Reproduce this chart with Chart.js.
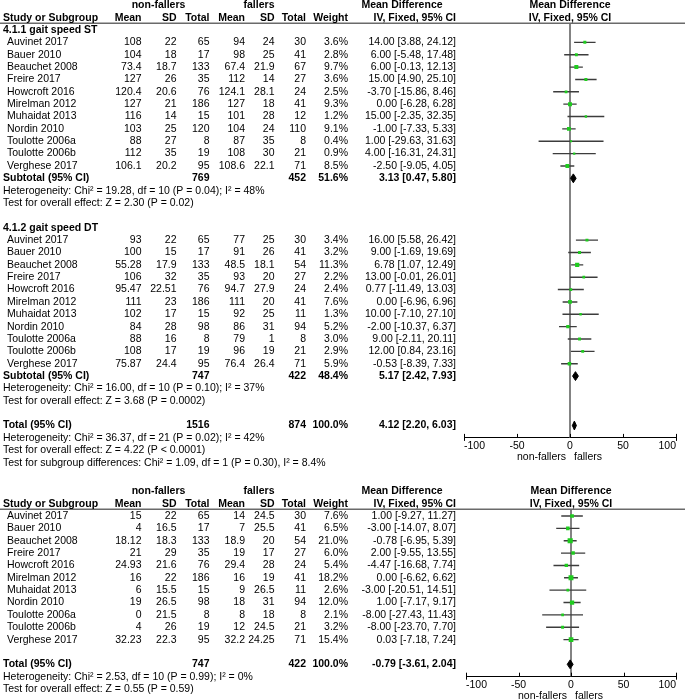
<!DOCTYPE html>
<html>
<head>
<meta charset="utf-8">
<title>Forest plot</title>
<script src="https://cdn.jsdelivr.net/npm/chart.js@4.4.1/dist/chart.umd.min.js"></script>
<style>
  html, body { margin:0; padding:0; background:#ffffff; }
  #page { position:relative; width:685px; height:699px; overflow:hidden; background:#fff; }
  canvas { position:absolute; left:0; display:block; }
</style>
</head>
<body>
<div id="page">
  <canvas id="topChart" width="685" height="470" style="top:0"></canvas>
  <canvas id="bottomChart" width="685" height="229" style="top:470px"></canvas>
</div>
<script>
// ---------------- DATA ----------------
const studies = ["Auvinet 2017","Bauer 2010","Beauchet 2008","Freire 2017","Howcroft 2016","Mirelman 2012","Muhaidat 2013","Nordin 2010","Toulotte 2006a","Toulotte 2006b","Verghese 2017"];
const axisTicks = [-100, -50, 0, 50, 100];

// 4.1.1 gait speed ST
const stNfMean = [108, 104, 73.4, 127, 120.4, 127, 116, 103, 88, 112, 106.1];
const stNfSD   = [22, 18, 18.7, 26, 20.6, 21, 14, 25, 27, 35, 20.2];
const stNfN    = [65, 17, 133, 35, 76, 186, 15, 120, 8, 19, 95];
const stFMean  = [94, 98, 67.4, 112, 124.1, 127, 101, 104, 87, 108, 108.6];
const stFSD    = [24, 25, 21.9, 14, 28.1, 18, 28, 24, 35, 30, 22.1];
const stFN     = [30, 41, 67, 27, 24, 41, 12, 110, 8, 21, 71];
const stWeight = [3.6, 2.8, 9.7, 3.6, 2.5, 9.3, 1.2, 9.1, 0.4, 0.9, 8.5];
const stMD     = [14.00, 6.00, 6.00, 15.00, -3.70, 0.00, 15.00, -1.00, 1.00, 4.00, -2.50];
const stLo     = [3.88, -5.48, -0.13, 4.90, -15.86, -6.28, -2.35, -7.33, -29.63, -16.31, -9.05];
const stHi     = [24.12, 17.48, 12.13, 25.10, 8.46, 6.28, 32.35, 5.33, 31.63, 24.31, 4.05];
const stTotals  = [769, 452, 51.6];
const stSummary = [3.13, 0.47, 5.80];
const stHet  = "Heterogeneity: Chi² = 19.28, df = 10 (P = 0.04); I² = 48%";
const stTest = "Test for overall effect: Z = 2.30 (P = 0.02)";

// 4.1.2 gait speed DT
const dtNfMean = [93, 100, 55.28, 106, 95.47, 111, 102, 84, 88, 108, 75.87];
const dtNfSD   = [22, 15, 17.9, 32, 22.51, 23, 17, 28, 16, 17, 24.4];
const dtNfN    = [65, 17, 133, 35, 76, 186, 15, 98, 8, 19, 95];
const dtFMean  = [77, 91, 48.5, 93, 94.7, 111, 92, 86, 79, 96, 76.4];
const dtFSD    = [25, 26, 18.1, 20, 27.9, 20, 25, 31, 1, 19, 26.4];
const dtFN     = [30, 41, 54, 27, 24, 41, 11, 94, 8, 21, 71];
const dtWeight = [3.4, 3.2, 11.3, 2.2, 2.4, 7.6, 1.3, 5.2, 3.0, 2.9, 5.9];
const dtMD     = [16.00, 9.00, 6.78, 13.00, 0.77, 0.00, 10.00, -2.00, 9.00, 12.00, -0.53];
const dtLo     = [5.58, -1.69, 1.07, -0.01, -11.49, -6.96, -7.10, -10.37, -2.11, 0.84, -8.39];
const dtHi     = [26.42, 19.69, 12.49, 26.01, 13.03, 6.96, 27.10, 6.37, 20.11, 23.16, 7.33];
const dtTotals  = [747, 422, 48.4];
const dtSummary = [5.17, 2.42, 7.93];
const dtHet  = "Heterogeneity: Chi² = 16.00, df = 10 (P = 0.10); I² = 37%";
const dtTest = "Test for overall effect: Z = 3.68 (P = 0.0002)";

// Overall (top analysis)
const allTotals  = [1516, 874, 100.0];
const allSummary = [4.12, 2.20, 6.03];
const allHet  = "Heterogeneity: Chi² = 36.37, df = 21 (P = 0.02); I² = 42%";
const allTest = "Test for overall effect: Z = 4.22 (P < 0.0001)";
const allSubgroup = "Test for subgroup differences: Chi² = 1.09, df = 1 (P = 0.30), I² = 8.4%";

// Second analysis (bottom)
const bNfMean = [15, 4, 18.12, 21, 24.93, 16, 6, 19, 0, 4, 32.23];
const bNfSD   = [22, 16.5, 18.3, 29, 21.6, 22, 15.5, 26.5, 21.5, 26, 22.3];
const bNfN    = [65, 17, 133, 35, 76, 186, 15, 98, 8, 19, 95];
const bFMean  = [14, 7, 18.9, 19, 29.4, 16, 9, 18, 8, 12, 32.2];
const bFSD    = [24.5, 25.5, 20, 17, 28, 19, 26.5, 31, 18, 24.5, 24.25];
const bFN     = [30, 41, 54, 27, 24, 41, 11, 94, 8, 21, 71];
const bWeight = [7.6, 6.5, 21.0, 6.0, 5.4, 18.2, 2.6, 12.0, 2.1, 3.2, 15.4];
const bMD     = [1.00, -3.00, -0.78, 2.00, -4.47, 0.00, -3.00, 1.00, -8.00, -8.00, 0.03];
const bLo     = [-9.27, -14.07, -6.95, -9.55, -16.68, -6.62, -20.51, -7.17, -27.43, -23.70, -7.18];
const bHi     = [11.27, 8.07, 5.39, 13.55, 7.74, 6.62, 14.51, 9.17, 11.43, 7.70, 7.24];
const bTotals  = [747, 422, 100.0];
const bSummary = [-0.79, -3.61, 2.04];
const bHet  = "Heterogeneity: Chi² = 2.53, df = 10 (P = 0.99); I² = 0%";
const bTest = "Test for overall effect: Z = 0.55 (P = 0.59)";

// ---------------- STYLE / LAYOUT ----------------
const FF = '"Liberation Sans", Arial, sans-serif';
const FS = 10.5;
const GREEN = '#1fcc1f';
const CI_COLOR = '#3c3c3c';
const ZERO_COLOR = '#5a5a5a';
const RULE_COLOR = '#6a6a6a';
const DIAMOND_H = 0.36;
const RULE_ROW = -0.55;
const X = { head:3, name:7, nfMean:141.5, nfSD:176.5, nfN:209.5, fMean:245, fSD:274.5, fN:306,
            w:348, ci:456, grpNf:158.5, grpF:259, mdHead:402 };

function T(r, x, text, align, bold) { return { r, x, text, align: align || 'left', bold: !!bold }; }
function fmtCI(m, l, h) { return m.toFixed(2) + ' [' + l.toFixed(2) + ', ' + h.toFixed(2) + ']'; }

function headerItems(items) {
  items.push(T(-2, X.grpNf, 'non-fallers', 'center', true));
  items.push(T(-2, X.grpF, 'fallers', 'center', true));
  items.push(T(-2, X.mdHead, 'Mean Difference', 'center', true));
  items.push(T(-2, 'zero', 'Mean Difference', 'center', true));
  items.push(T(-1, X.head, 'Study or Subgroup', 'left', true));
  items.push(T(-1, X.nfMean, 'Mean', 'right', true));
  items.push(T(-1, X.nfSD, 'SD', 'right', true));
  items.push(T(-1, X.nfN, 'Total', 'right', true));
  items.push(T(-1, X.fMean, 'Mean', 'right', true));
  items.push(T(-1, X.fSD, 'SD', 'right', true));
  items.push(T(-1, X.fN, 'Total', 'right', true));
  items.push(T(-1, X.w, 'Weight', 'right', true));
  items.push(T(-1, X.ci, 'IV, Fixed, 95% CI', 'right', true));
  items.push(T(-1, 'zero', 'IV, Fixed, 95% CI', 'center', true));
}
function studyItems(items, r0, nfM, nfS, nfN, fM, fS, fN, w, md, lo, hi) {
  studies.forEach((s, i) => {
    const r = r0 + i;
    items.push(T(r, X.name, s));
    items.push(T(r, X.nfMean, String(nfM[i]), 'right'));
    items.push(T(r, X.nfSD, String(nfS[i]), 'right'));
    items.push(T(r, X.nfN, String(nfN[i]), 'right'));
    items.push(T(r, X.fMean, String(fM[i]), 'right'));
    items.push(T(r, X.fSD, String(fS[i]), 'right'));
    items.push(T(r, X.fN, String(fN[i]), 'right'));
    items.push(T(r, X.w, w[i].toFixed(1) + '%', 'right'));
    items.push(T(r, X.ci, fmtCI(md[i], lo[i], hi[i]), 'right'));
  });
}
function summaryItems(items, r, label, totals, summary) {
  items.push(T(r, X.head, label, 'left', true));
  items.push(T(r, X.nfN, String(totals[0]), 'right', true));
  items.push(T(r, X.fN, String(totals[1]), 'right', true));
  items.push(T(r, X.w, totals[2].toFixed(1) + '%', 'right', true));
  items.push(T(r, X.ci, fmtCI(summary[0], summary[1], summary[2]), 'right', true));
}

function forestDatasets(r0, md, lo, hi, w) {
  const ds = [];
  ds.push({
    type: 'scatter',
    data: md.map((m, i) => ({ x: m, y: r0 + i })),
    pointStyle: 'rect',
    pointRadius: w.map(v => (1.5 + 0.8 * Math.sqrt(v)) / Math.SQRT2),
    pointBackgroundColor: GREEN,
    pointBorderWidth: 0,
    order: 0
  });
  md.forEach((m, i) => {
    ds.push({
      type: 'line',
      data: [{ x: lo[i], y: r0 + i }, { x: hi[i], y: r0 + i }],
      borderColor: CI_COLOR, borderWidth: 1.4, pointRadius: 0, fill: false, order: 1
    });
  });
  return ds;
}
function diamondDataset(r, summary) {
  const [m, l, h] = summary;
  return {
    type: 'line',
    data: [{ x: l, y: r }, { x: m, y: r - DIAMOND_H }, { x: h, y: r }, { x: m, y: r + DIAMOND_H }, { x: l, y: r }],
    borderColor: '#000', borderWidth: 1, backgroundColor: '#000', pointRadius: 0, fill: 'shape', order: 0
  };
}
function zeroLine(yMax) {
  return {
    type: 'line',
    data: [{ x: 0, y: RULE_ROW }, { x: 0, y: yMax }],
    borderColor: ZERO_COLOR, borderWidth: 1.5, pointRadius: 0, fill: false, order: 2
  };
}

function textPlugin(items) {
  return {
    id: 'forestText',
    afterDraw(chart) {
      const ctx = chart.ctx, ys = chart.scales.y, xs = chart.scales.x, ca = chart.chartArea;
      ctx.save();
      // header rule
      ctx.strokeStyle = RULE_COLOR; ctx.lineWidth = 1.5;
      const yr = ys.getPixelForValue(RULE_ROW);
      ctx.beginPath(); ctx.moveTo(0, yr); ctx.lineTo(chart.width, yr); ctx.stroke();
      // texts
      ctx.fillStyle = '#000';
      ctx.textBaseline = 'middle';
      items.forEach(it => {
        ctx.font = (it.bold ? 'bold ' : '') + FS + 'px ' + FF;
        ctx.textAlign = it.align;
        const px = it.x === 'zero' ? xs.getPixelForValue(0) : it.x;
        ctx.fillText(it.text, px, ys.getPixelForValue(it.r));
      });
      // tick marks (inward)
      ctx.strokeStyle = '#000'; ctx.lineWidth = 1;
      xs.ticks.forEach((t, i) => {
        const px = Math.round(xs.getPixelForValue(t.value)) + 0.5;
        const end = (i === 0 || i === xs.ticks.length - 1);
        ctx.beginPath();
        ctx.moveTo(px, ca.bottom - 4);
        ctx.lineTo(px, ca.bottom + (end ? 3 : 0));
        ctx.stroke();
      });
      // direction labels
      ctx.font = FS + 'px ' + FF;
      const x0 = xs.getPixelForValue(0);
      const yl = ca.bottom + 19;
      ctx.textAlign = 'right'; ctx.fillText('non-fallers', x0 - 4, yl);
      ctx.textAlign = 'left';  ctx.fillText('fallers', x0 + 4, yl);
      ctx.restore();
    }
  };
}

function makeChart(canvasId, datasets, items, yMax, pad) {
  return new Chart(document.getElementById(canvasId), {
    type: 'scatter',
    data: { datasets },
    options: {
      responsive: false,
      animation: false,
      events: [],
      layout: { padding: pad },
      plugins: { legend: { display: false }, tooltip: { enabled: false }, title: { display: false } },
      scales: {
        x: {
          type: 'linear', min: axisTicks[0], max: axisTicks[axisTicks.length - 1], position: 'bottom',
          afterBuildTicks: s => { s.ticks = axisTicks.map(v => ({ value: v })); },
          ticks: { font: { family: FF, size: FS }, color: '#000', padding: 2, maxRotation: 0, autoSkip: false, align: 'inner' },
          grid: { display: false, drawTicks: false },
          border: { display: true, color: '#000', width: 1 },
          afterFit: s => { s.height = 15; s.paddingLeft = 0; s.paddingRight = 0; }
        },
        y: { type: 'linear', reverse: true, min: RULE_ROW, max: yMax, display: false }
      }
    },
    plugins: [textPlugin(items)]
  });
}

// ---------------- TOP ANALYSIS ----------------
const topItems = [];
headerItems(topItems);
topItems.push(T(0, X.head, '4.1.1 gait speed ST', 'left', true));
studyItems(topItems, 1, stNfMean, stNfSD, stNfN, stFMean, stFSD, stFN, stWeight, stMD, stLo, stHi);
summaryItems(topItems, 12, 'Subtotal (95% CI)', stTotals, stSummary);
topItems.push(T(13, X.head, stHet));
topItems.push(T(14, X.head, stTest));
topItems.push(T(16, X.head, '4.1.2 gait speed DT', 'left', true));
studyItems(topItems, 17, dtNfMean, dtNfSD, dtNfN, dtFMean, dtFSD, dtFN, dtWeight, dtMD, dtLo, dtHi);
summaryItems(topItems, 28, 'Subtotal (95% CI)', dtTotals, dtSummary);
topItems.push(T(29, X.head, dtHet));
topItems.push(T(30, X.head, dtTest));
summaryItems(topItems, 32, 'Total (95% CI)', allTotals, allSummary);
topItems.push(T(33, X.head, allHet));
topItems.push(T(34, X.head, allTest));
topItems.push(T(35, X.head, allSubgroup));

const topDatasets = [].concat(
  forestDatasets(1, stMD, stLo, stHi, stWeight),
  forestDatasets(17, dtMD, dtLo, dtHi, dtWeight),
  [diamondDataset(12, stSummary), diamondDataset(28, dtSummary), diamondDataset(32, allSummary), zeroLine(33)]
);
makeChart('topChart', topDatasets, topItems, 33, { left: 464, right: 9, top: 23.2, bottom: 17.1 });

// ---------------- BOTTOM ANALYSIS ----------------
const botItems = [];
headerItems(botItems);
studyItems(botItems, 0, bNfMean, bNfSD, bNfN, bFMean, bFSD, bFN, bWeight, bMD, bLo, bHi);
summaryItems(botItems, 12, 'Total (95% CI)', bTotals, bSummary);
botItems.push(T(13, X.head, bHet));
botItems.push(T(14, X.head, bTest));

const botDatasets = [].concat(
  forestDatasets(0, bMD, bLo, bHi, bWeight),
  [diamondDataset(12, bSummary), zeroLine(13)]
);
makeChart('bottomChart', botDatasets, botItems, 13, { left: 466, right: 9, top: 39.2, bottom: 7.3 });
</script>
</body>
</html>
